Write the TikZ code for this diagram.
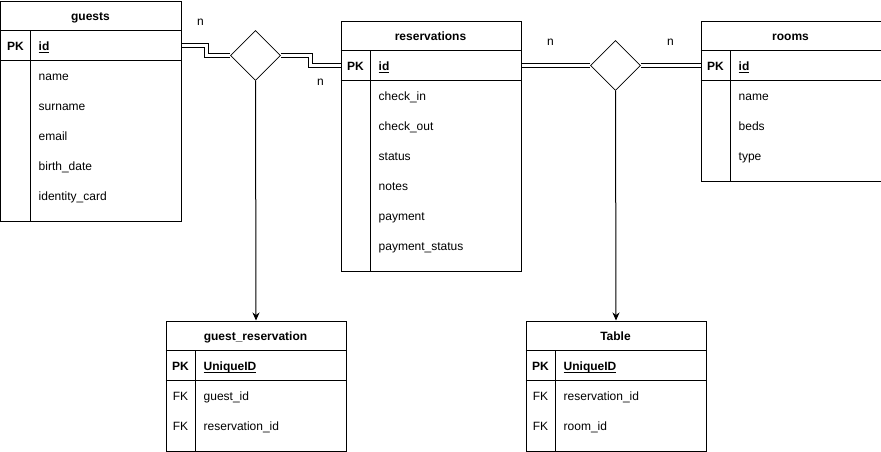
\documentclass[tikz,border=0pt]{standalone}
\usepackage{fontspec}
\setmainfont{Liberation Sans}
\usetikzlibrary{shapes.geometric,arrows.meta}
\newcommand\ulx[1]{\setbox0\hbox{#1}\rlap{\rule[-1.9pt]{\wd0}{0.8pt}}\box0}
\newcommand\basefont{\fontsize{12pt}{14pt}\selectfont}
\tikzset{
  frame/.style={draw, line width=1pt, anchor=north west, inner sep=0pt},
  sep/.style={line width=1pt},
  hdr/.style={anchor=base, inner sep=0pt, font=\basefont\bfseries},
  keycol/.style={anchor=base, inner sep=0pt},
  pkcol/.style={anchor=base, inner sep=0pt, font=\basefont\bfseries},
  fld/.style={anchor=base west, inner sep=0pt},
  rel/.style={draw, diamond, line width=0.8pt, minimum width=50pt, minimum height=50pt, inner sep=0pt},
  link/.style={double, double distance=3pt, line width=1pt, line join=miter},
  arr/.style={line width=1pt, -{Stealth[length=8pt,width=7pt,inset=2.5pt]}},
  card/.style={anchor=base, inner sep=0pt},
}
\begin{document}
\begin{tikzpicture}[x=1pt,y=-1pt,font=\basefont]
\useasboundingbox (-0.5,-0.5) rectangle (880.5,450.5);

% guests
\node[frame, minimum width=180pt, minimum height=220pt] (guests) at (0,0) {};
\draw[sep] (0,30) -- (180,30) (0,60) -- (180,60) (30,30) -- (30,220);
\node[hdr] (guests-h) at (90,20) {guests};
\node[pkcol] (guests-pk) at (15,50) {PK};
\node[fld] (guests-id) at (38,50) {\bfseries\ulx{id}};
\node[fld] (guests-f1) at (38,80) {name};
\node[fld] (guests-f2) at (38,110) {surname};
\node[fld] (guests-f3) at (38,140) {email};
\node[fld] (guests-f4) at (38,170) {birth\_date};
\node[fld] (guests-f5) at (38,200) {identity\_card};

% reservations
\node[frame, minimum width=180pt, minimum height=250pt] (res) at (340,20) {};
\draw[sep] (340,50) -- (520,50) (340,80) -- (520,80) (370,50) -- (370,270);
\node[hdr] (res-h) at (430,40) {reservations};
\node[pkcol] (res-pk) at (355,70) {PK};
\node[fld] (res-id) at (378,70) {\bfseries\ulx{id}};
\node[fld] (res-f1) at (378,100) {check\_in};
\node[fld] (res-f2) at (378,130) {check\_out};
\node[fld] (res-f3) at (378,160) {status};
\node[fld] (res-f4) at (378,190) {notes};
\node[fld] (res-f5) at (378,220) {payment};
\node[fld] (res-f6) at (378,250) {payment\_status};

% rooms
\node[frame, minimum width=180pt, minimum height=160pt] (rooms) at (700,20) {};
\draw[sep] (700,50) -- (880,50) (700,80) -- (880,80) (730,50) -- (730,180);
\node[hdr] (rooms-h) at (790,40) {rooms};
\node[pkcol] (rooms-pk) at (715,70) {PK};
\node[fld] (rooms-id) at (738,70) {\bfseries\ulx{id}};
\node[fld] (rooms-f1) at (738,100) {name};
\node[fld] (rooms-f2) at (738,130) {beds};
\node[fld] (rooms-f3) at (738,160) {type};

% guest_reservation
\node[frame, minimum width=180pt, minimum height=130pt] (gr) at (165,320) {};
\draw[sep] (165,350) -- (345,350) (165,380) -- (345,380) (195,350) -- (195,450);
\node[hdr] (gr-h) at (255,340) {guest\_reservation};
\node[pkcol] (gr-pk) at (180,370) {PK};
\node[fld] (gr-id) at (203,370) {\bfseries\ulx{UniqueID}};
\node[keycol] (gr-fk1) at (180,400) {FK};
\node[fld] (gr-f1) at (203,400) {guest\_id};
\node[keycol] (gr-fk2) at (180,430) {FK};
\node[fld] (gr-f2) at (203,430) {reservation\_id};

% Table
\node[frame, minimum width=180pt, minimum height=130pt] (tb) at (525,320) {};
\draw[sep] (525,350) -- (705,350) (525,380) -- (705,380) (555,350) -- (555,450);
\node[hdr] (tb-h) at (615,340) {Table};
\node[pkcol] (tb-pk) at (540,370) {PK};
\node[fld] (tb-id) at (563,370) {\bfseries\ulx{UniqueID}};
\node[keycol] (tb-fk1) at (540,400) {FK};
\node[fld] (tb-f1) at (563,400) {reservation\_id};
\node[keycol] (tb-fk2) at (540,430) {FK};
\node[fld] (tb-f2) at (563,430) {room\_id};

% relationships
\node[rel] (d1) at (255,55) {};
\node[rel] (d2) at (615,65) {};

\draw[link] ([yshift=-45pt]guests.north east) -- ++(25,0) |- (d1.west);
\draw[link] (d1.east) -- ++(30,0) |- ([yshift=-45pt]res.north west);
\draw[link] ([yshift=-45pt]res.north east) -- (d2.west);
\draw[link] (d2.east) -- ([yshift=-45pt]rooms.north west);

\draw[arr] (d1.south) -- (gr.north);
\draw[arr] (d2.south) -- (tb.north);

\node[card] (n1) at (200,25) {n};
\node[card] (n2) at (320,85) {n};
\node[card] (n3) at (550,45) {n};
\node[card] (n4) at (670,45) {n};
\end{tikzpicture}
\end{document}
